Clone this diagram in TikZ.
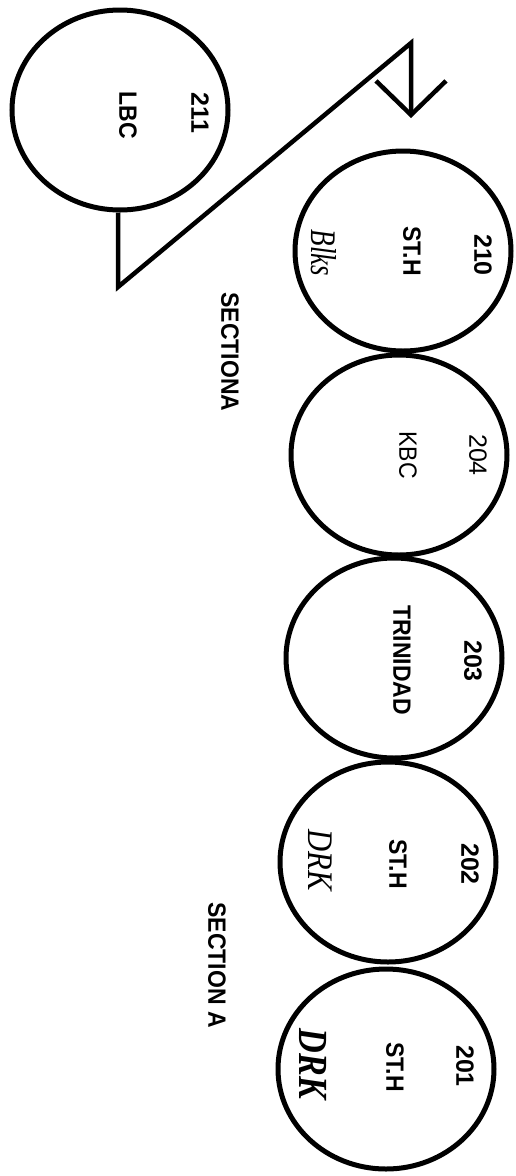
\documentclass[tikz,border=0pt]{standalone}
\usepackage{fontspec}
\setmainfont{Liberation Sans}
\newfontfamily\hand{Liberation Serif}
\usetikzlibrary{shapes.geometric,arrows.meta}
\newcommand\narrowtxt[1]{\scalebox{0.92}[1]{#1}}
\begin{document}
\begin{tikzpicture}[x=1pt,y=-1pt,
  room/.style={draw,line width=5pt,ellipse,minimum width=216pt,minimum height=200pt,inner sep=0pt},
  numlbl/.style={rotate=-90,inner sep=0pt,font=\fontsize{25}{25}\selectfont\bfseries},
  namelbl/.style={rotate=-90,inner sep=0pt,font=\fontsize{25}{25}\selectfont\bfseries},
  plainlbl/.style={rotate=-90,inner sep=0pt,font=\fontsize{25}{25}\selectfont},
  hw/.style={rotate=-90,inner sep=0pt,font=\fontsize{36}{36}\selectfont\hand\itshape},
  sect/.style={rotate=-90,inner sep=0pt,font=\fontsize{25}{25}\selectfont\bfseries},
  zig/.style={line width=4.5pt,line join=miter}]
\useasboundingbox (0,0) rectangle (516,1176);
\fill[white] (0,0) rectangle (516,1176);
% rooms
\node[room] (c211) at (120,110) {};
\node[room] (c210) at (403,251) {};
\node[room] (c204) at (399,455) {};
\node[room] (c203) at (394,658) {};
\node[room] (c202) at (388,862) {};
\node[room] (c201) at (386,1069) {};
% labels
\node[numlbl] (n211) at (200,113) {211};
\node[namelbl] (l211) at (128,115) {\narrowtxt{LBC}};
\node[numlbl] (n210) at (483,255) {210};
\node[namelbl] (l210) at (412,251) {\narrowtxt{ST.H}};
\node[hw] (h210) at (324,253) {\scalebox{0.75}[1]{Blks}};
\node[plainlbl] (n204) at (478,455) {204};
\node[plainlbl] (l204) at (408,455) {\narrowtxt{KBC}};
\node[numlbl] (n203) at (473,661) {203};
\node[namelbl] (l203) at (402,660) {\narrowtxt{TRINIDAD}};
\node[numlbl] (n202) at (470,864) {202};
\node[namelbl] (l202) at (398,864) {\narrowtxt{ST.H}};
\node[hw] (h202) at (320,860) {\scalebox{0.85}[1]{DRK}};
\node[numlbl] (n201) at (465,1066) {201};
\node[namelbl] (l201) at (395,1067) {\narrowtxt{ST.H}};
\node[hw] (h201) at (313,1064) {\scalebox{0.95}[1.15]{\bfseries DRK}};
\node[sect] (s1) at (230,352) {\narrowtxt{SECTIONA}};
\node[sect] (s2) at (217,965) {\narrowtxt{SECTION A}};
% zigzag arrow
\coordinate (k1) at (118,287);
\coordinate (k2) at (411,43);
\coordinate (tip) at (411,118);
\draw[zig,-{Straight Barb[length=34pt,width=70pt,line width=4.5pt]}] (c211.south -| k1) -- (k1) -- (k2) -- (tip);
\end{tikzpicture}
\end{document}
